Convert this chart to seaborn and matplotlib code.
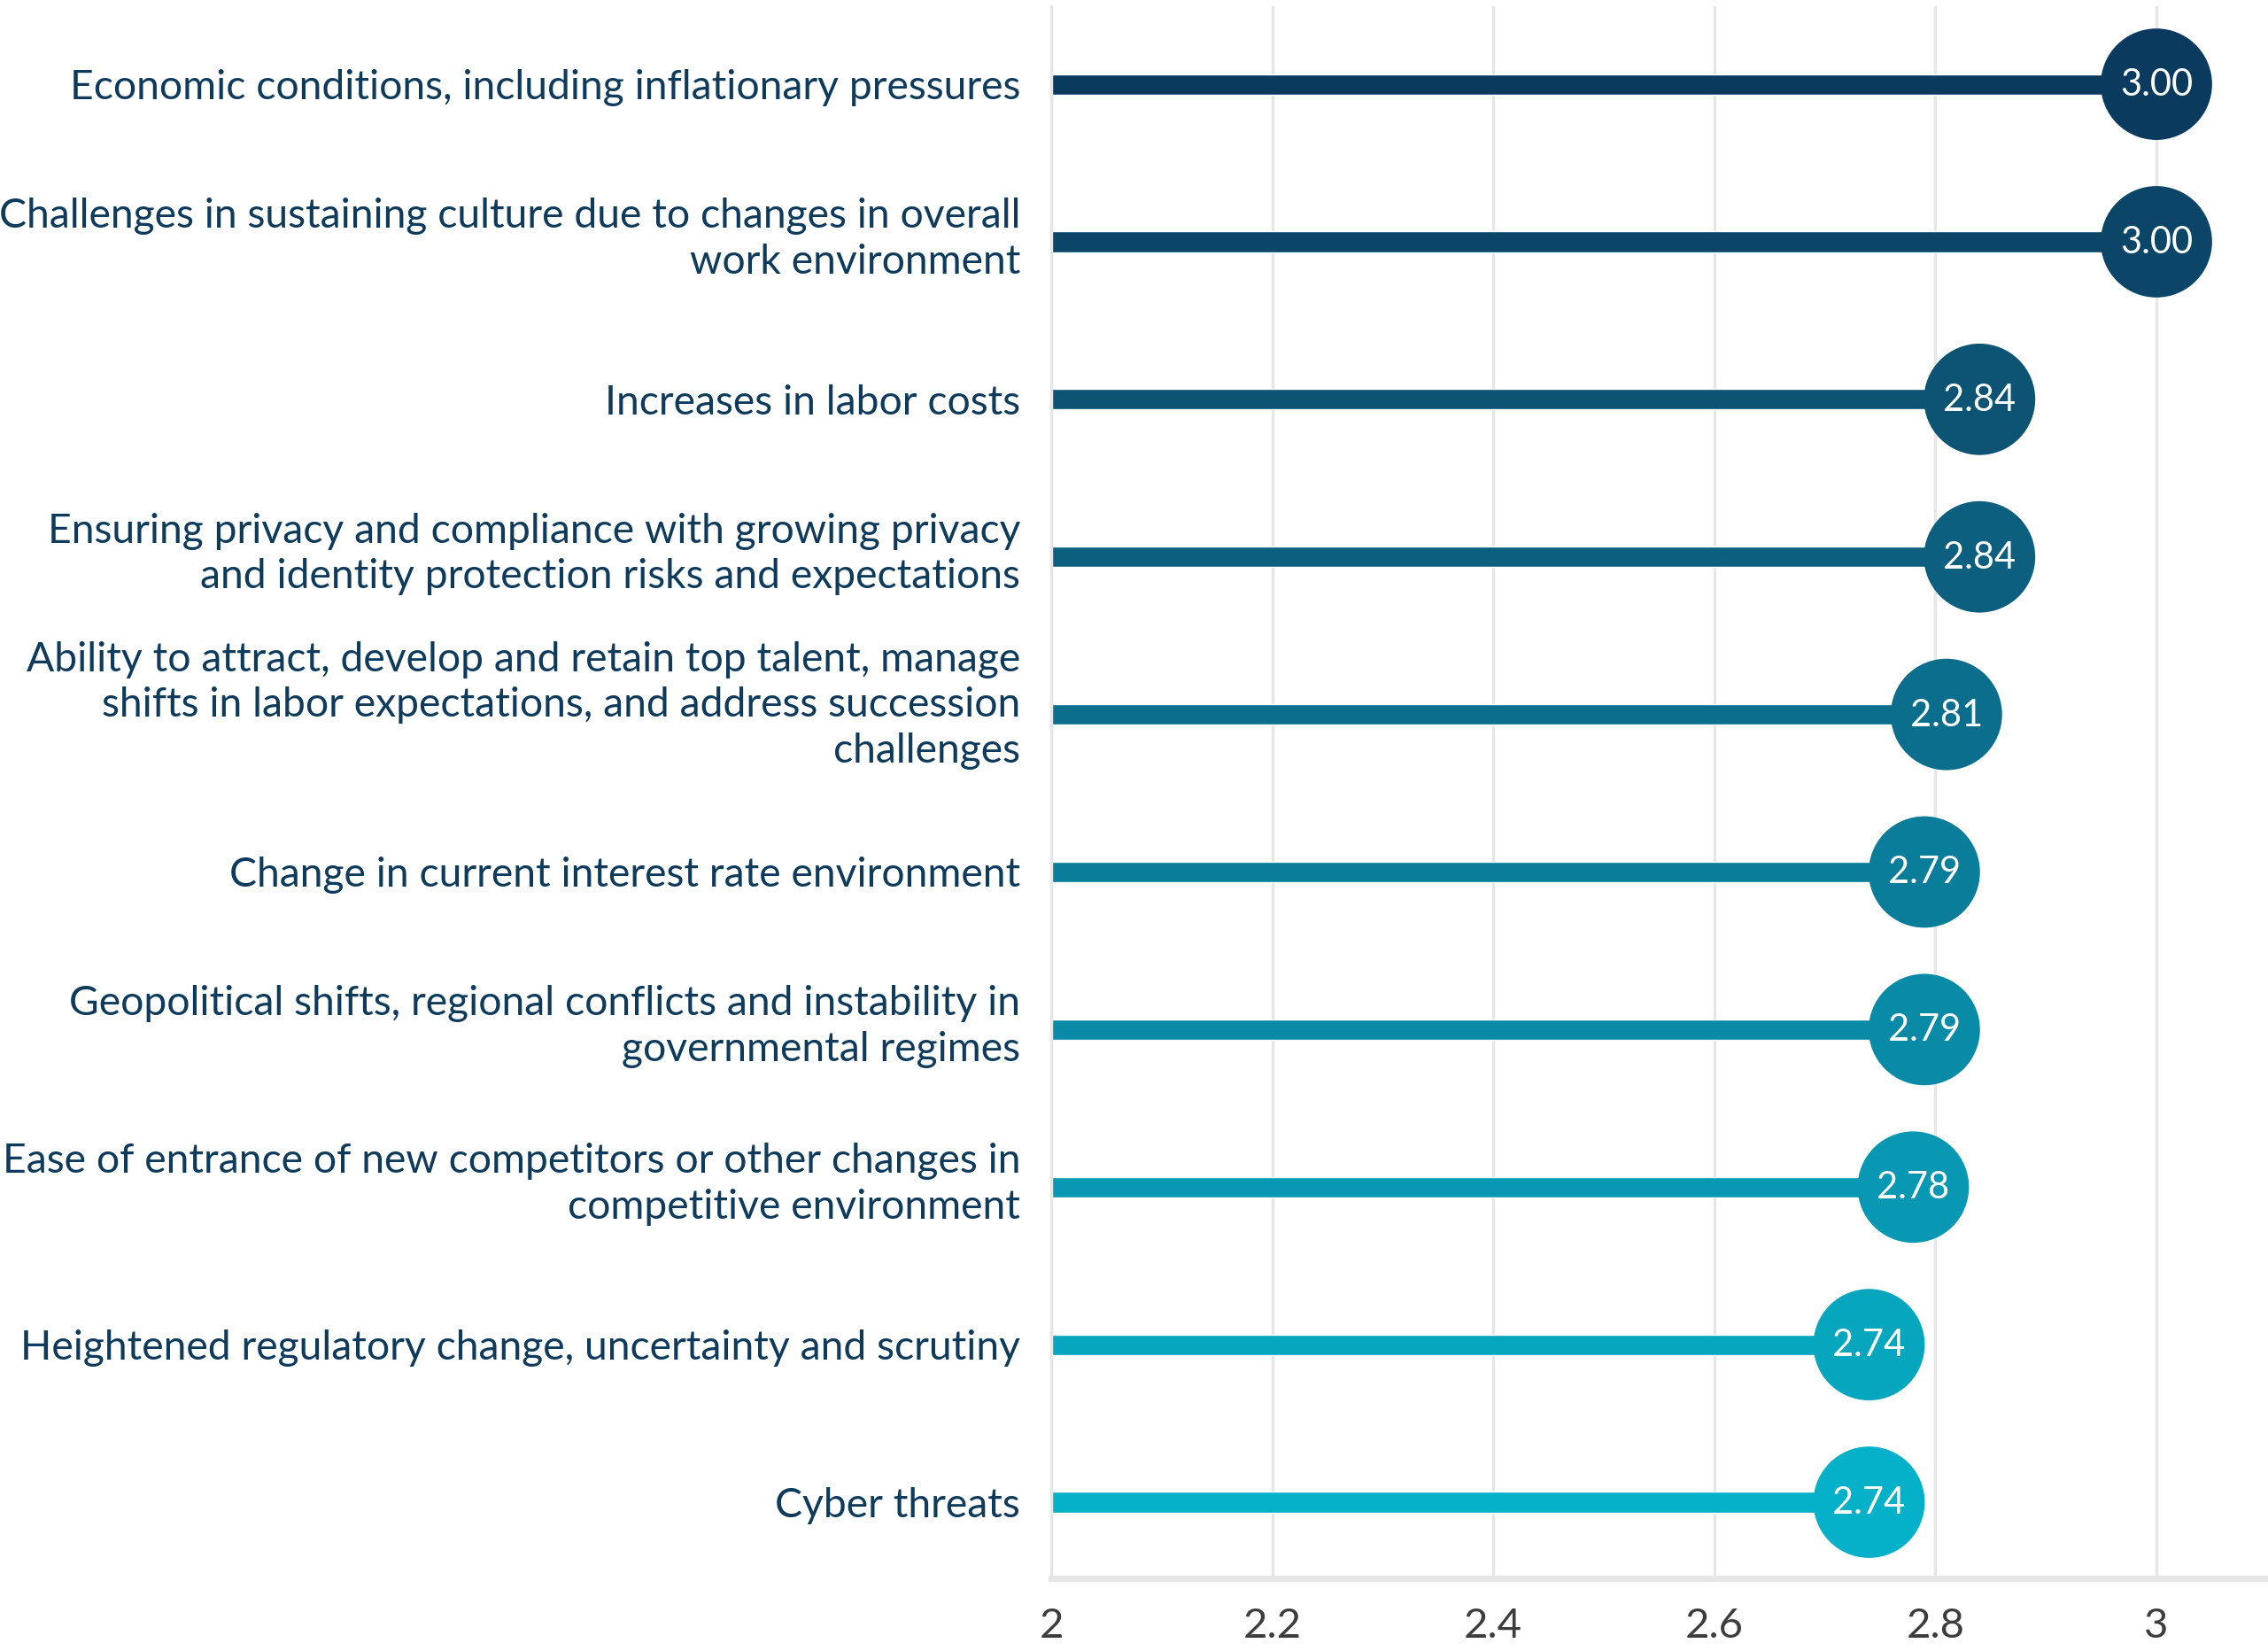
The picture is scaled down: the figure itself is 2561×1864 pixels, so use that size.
import matplotlib
matplotlib.use("Agg")
import matplotlib.pyplot as plt
import matplotlib.transforms as mtransforms
import seaborn as sns
import pandas as pd

# data
risks = [
    "Economic conditions, including inflationary pressures",
    "Challenges in sustaining culture due to changes in overall\nwork environment",
    "Increases in labor costs",
    "Ensuring privacy and compliance with growing privacy\nand identity protection risks and expectations",
    "Ability to attract, develop and retain top talent, manage\nshifts in labor expectations, and address succession\nchallenges",
    "Change in current interest rate environment",
    "Geopolitical shifts, regional conflicts and instability in\ngovernmental regimes",
    "Ease of entrance of new competitors or other changes in\ncompetitive environment",
    "Heightened regulatory change, uncertainty and scrutiny",
    "Cyber threats",
]
scores = [3.00, 3.00, 2.84, 2.84, 2.81, 2.79, 2.79, 2.78, 2.74, 2.74]
row_colors = ["#0a3b5f", "#0b4567", "#0c5374", "#0d5f7f", "#0b6e8d",
              "#0a7d9a", "#098ba7", "#0898b3", "#06a6bf", "#05b1c8"]
x_ticks = [2, 2.2, 2.4, 2.6, 2.8, 3]
x_tick_labels = ["2", "2.2", "2.4", "2.6", "2.8", "3"]

df = pd.DataFrame({"risk": risks, "score": scores})

sns.set_theme(style="whitegrid")
plt.rcParams["font.family"] = ["Lato", "DejaVu Sans"]

fig = plt.figure(figsize=(25.61, 18.65), dpi=100)
ax = fig.add_axes([0.4635, 0.044, 0.5365, 0.9517])

# stems
sns.barplot(data=df, x="score", y="risk", hue="risk", palette=row_colors,
            width=0.13, saturation=1, legend=False, ax=ax, zorder=2)
# heads
sns.scatterplot(data=df, x="score", y="risk", hue="risk", palette=row_colors,
                s=8200, linewidth=0, legend=False, ax=ax, zorder=3, clip_on=False)

for i, v in enumerate(scores):
    ax.text(v, i, f"{v:.2f}", ha="center", va="center", color="white",
            fontsize=30, zorder=4)

ax.set_xlim(2, 3.101)
ax.set_ylim(9.483, -0.495)
ax.set_xticks(x_ticks, labels=x_tick_labels)
ax.set_yticks(range(len(risks)), labels=[""] * len(risks))
ax.set_xlabel("")
ax.set_ylabel("")

# category labels drawn as text so multi-line ones can sit like the original
base = mtransforms.blended_transform_factory(ax.transAxes, ax.transData)
for i, lab in enumerate(risks):
    n = lab.count("\n") + 1
    up = -7 + 5 * n
    tr = base + mtransforms.ScaledTranslation(-0.35, up / 72, fig.dpi_scale_trans)
    ax.text(0, i, lab, transform=tr, ha="right", va="center", multialignment="right",
            fontsize=33.3, color="#0e3a5c", linespacing=1.29)

ax.set_axisbelow(True)
ax.grid(axis="x", color="#e6e6e6", linewidth=2.5)
ax.grid(axis="y", visible=False)
for side in ["top", "right"]:
    ax.spines[side].set_visible(False)
ax.spines["left"].set_color("#e6e6e6")
ax.spines["left"].set_linewidth(2.5)
ax.spines["bottom"].set_color("#e6e6e6")
ax.spines["bottom"].set_linewidth(5)

ax.tick_params(axis="y", length=14, width=3, color="#dcdcdc", pad=10)
ax.tick_params(axis="x", length=16, width=4, color="#e3e3e3", pad=7,
               labelsize=34, labelcolor="#3d3d3d")

fig.savefig("out.png", dpi=100)
